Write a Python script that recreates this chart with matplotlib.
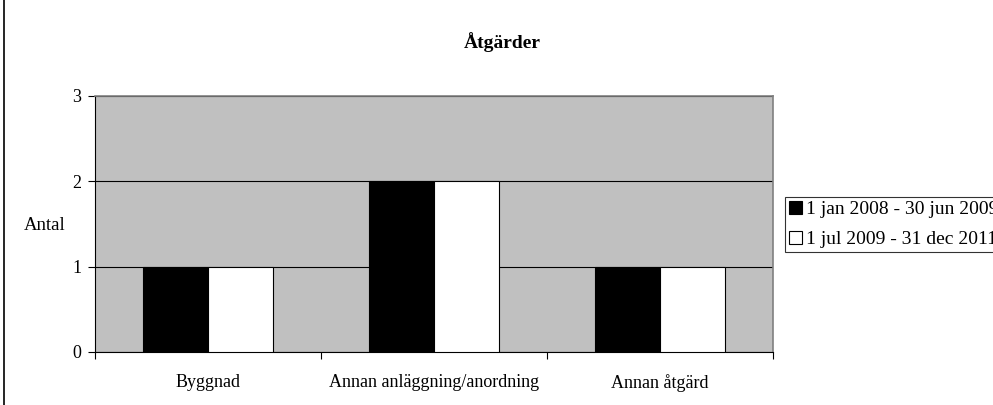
import matplotlib.pyplot as plt
from matplotlib.patches import Rectangle, Patch

categories = ['Byggnad', 'Annan anläggning/anordning', 'Annan åtgärd']
series_names = ['1 jan 2008 - 30 jun 2009', '1 jul 2009 - 31 dec 2011']
period1 = [1, 2, 1]
period2 = [1, 2, 1]

plt.rcParams['font.family'] = ['Liberation Serif', 'DejaVu Serif']

fig = plt.figure(figsize=(9.93, 4.05), dpi=100)
ax = fig.add_axes([95 / 993, 1 - 352 / 405, 678 / 993, 256 / 405])
ax.set_facecolor('#c0c0c0')

w = 1 / 3.5
x = list(range(len(categories)))
ax.bar([i - w / 2 for i in x], period1, width=w, color='black', edgecolor='black', linewidth=0.8, zorder=3)
ax.bar([i + w / 2 for i in x], period2, width=w, color='white', edgecolor='black', linewidth=0.8, zorder=3)

ax.set_xlim(-0.5, 2.5)
ax.set_ylim(0, 3)
ax.set_yticks([0, 1, 2, 3])
ax.tick_params(axis='y', length=5, width=0.8, pad=5, labelsize=13)
ax.yaxis.grid(True, color='black', linewidth=0.8, zorder=1)
ax.set_axisbelow(True)

ax.set_xticks(x)
ax.set_xticklabels(categories, fontsize=13)
ax.tick_params(axis='x', which='major', length=0, pad=16)
ax.set_xticks([-0.5, 0.5, 1.5, 2.5], minor=True)
ax.tick_params(axis='x', which='minor', length=5, width=0.8)

for s in ['top', 'right']:
    ax.spines[s].set_color('#808080')
    ax.spines[s].set_linewidth(1.2)
for s in ['left', 'bottom']:
    ax.spines[s].set_color('black')
    ax.spines[s].set_linewidth(0.8)

fig.text(502 / 993, 1 - 42 / 405, 'Åtgärder', ha='center', va='center', fontsize=14, fontweight='bold')
fig.text(45 / 993, 1 - 226 / 405, 'Antal', ha='center', va='center', fontsize=13.5)

handles = [Patch(facecolor='black', edgecolor='black', linewidth=0.8),
           Patch(facecolor='white', edgecolor='black', linewidth=0.8)]
leg = fig.legend(handles, series_names, loc='upper left', bbox_to_anchor=(785 / 993, 1 - 197 / 405),
                 fontsize=14, frameon=True, fancybox=False, borderpad=0.2, borderaxespad=0,
                 handlelength=0.65, handleheight=0.65, handletextpad=0.25, labelspacing=0.65)
leg.get_frame().set_edgecolor('black')
leg.get_frame().set_linewidth(0.8)

fig.patches.append(Rectangle((4 / 993, -0.2), 1.2, 1.2 + (1 - 12 / 405), transform=fig.transFigure,
                             fill=False, edgecolor='black', linewidth=1.2))

fig.savefig('out.png', dpi=100)
